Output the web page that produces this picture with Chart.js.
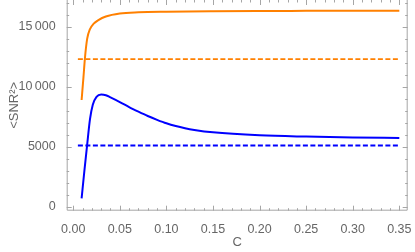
<!DOCTYPE html>
<html>
<head>
<meta charset="utf-8">
<script src="https://cdn.jsdelivr.net/npm/chart.js@4"></script>
<style>
  html, body { margin: 0; padding: 0; background: #fff; }
  #wrap { width: 415px; height: 252px; }
</style>
</head>
<body>
<div id="wrap"><canvas id="myChart" width="415" height="252"></canvas></div>
<script>
// values
var blueC   = [0.009, 0.012, 0.015, 0.018, 0.021, 0.025, 0.030, 0.035, 0.040, 0.050, 0.060, 0.070, 0.080, 0.090, 0.100, 0.110, 0.120, 0.130, 0.150, 0.200, 0.250, 0.300, 0.350];
var blueSNR = [700, 3000, 5200, 7300, 8500, 9150, 9340, 9290, 9110, 8720, 8300, 7920, 7560, 7240, 6950, 6720, 6540, 6400, 6200, 5950, 5840, 5770, 5725];

var orangeC   = [0.009, 0.011, 0.0126, 0.015, 0.018, 0.022, 0.027, 0.035, 0.050, 0.070, 0.100, 0.150, 0.200, 0.250, 0.300, 0.350];
var orangeSNR = [8890, 10800, 12400, 14000, 14800, 15250, 15550, 15850, 16100, 16200, 16250, 16290, 16310, 16320, 16330, 16330];

var dashC = [0.005, 0.35];
var orangeLevel = 12300;
var blueLevel = 5100;

var xTicks = [0, 0.05, 0.10, 0.15, 0.20, 0.25, 0.30, 0.35];
var yTicks = [0, 5000, 10000, 15000];

function pts(xs, ys) {
  var out = [];
  for (var i = 0; i < xs.length; i++) out.push({x: xs[i], y: ys[i]});
  return out;
}
function flat(xs, v) {
  return xs.map(function(x){ return {x: x, y: v}; });
}

var frameColor = '#a6a6a6';
var textColor = '#666666';

// Mathematica style frame with inward ticks
var framePlugin = {
  id: 'frame',
  afterDatasetsDraw: function(chart) {
    var ctx = chart.ctx, a = chart.chartArea;
    var xs = chart.scales.x, ys = chart.scales.y;
    ctx.save();
    ctx.strokeStyle = frameColor;
    ctx.lineWidth = 1;
    ctx.beginPath();
    ctx.rect(a.left + 0.5, a.top - 0.5, a.right - a.left - 1, a.bottom - a.top);
    ctx.stroke();
    ctx.beginPath();
    var v, p, len;
    for (var i = 0; i <= 35; i++) {
      v = i / 100;
      p = Math.round(xs.getPixelForValue(v)) + 0.5;
      len = (i % 5 == 0) ? 5 : 2.5;
      ctx.moveTo(p, a.bottom); ctx.lineTo(p, a.bottom - len);
      ctx.moveTo(p, a.top); ctx.lineTo(p, a.top + len);
    }
    for (var j = 0; j <= 17; j++) {
      v = j * 1000;
      p = Math.round(ys.getPixelForValue(v)) + 0.5;
      len = (j % 5 == 0) ? 5 : 2.5;
      ctx.moveTo(a.left, p); ctx.lineTo(a.left + len, p);
      ctx.moveTo(a.right, p); ctx.lineTo(a.right - len, p);
    }
    ctx.stroke();
    ctx.restore();
  }
};

function fmtY(v) {
  if (v >= 10000) {
    var s = String(v);
    return s.slice(0, s.length - 3) + '\u2009' + s.slice(-3);
  }
  return String(v);
}

var ctx = document.getElementById('myChart');
var myChart = new Chart(ctx, {
  type: 'scatter',
  data: {
    datasets: [
      { data: pts(orangeC, orangeSNR), borderColor: '#ff8000', borderWidth: 2, showLine: true, pointRadius: 0, cubicInterpolationMode: 'monotone' },
      { data: flat(dashC, orangeLevel), borderColor: '#ff8000', borderWidth: 1.8, borderDash: [5, 2.5], showLine: true, pointRadius: 0 },
      { data: pts(blueC, blueSNR), borderColor: '#0000ff', borderWidth: 2, showLine: true, pointRadius: 0, cubicInterpolationMode: 'monotone' },
      { data: flat(dashC, blueLevel), borderColor: '#0000ff', borderWidth: 1.8, borderDash: [5, 2.5], showLine: true, pointRadius: 0 }
    ]
  },
  options: {
    responsive: false,
    animation: false,
    layout: { padding: { left: 0, right: 7.3, top: 0, bottom: 0 } },
    plugins: { legend: { display: false }, tooltip: { enabled: false } },
    scales: {
      x: {
        type: 'linear',
        min: -0.007,
        max: 0.359,
        grid: { display: false },
        border: { display: false },
        afterBuildTicks: function(s) { s.ticks = xTicks.map(function(v){ return {value: v}; }); },
        afterFit: function(s) { s.height = 41.3; s.paddingLeft = 0; s.paddingRight = 0; },
        ticks: {
          color: textColor,
          padding: 3,
          maxRotation: 0,
          font: { family: 'Liberation Sans, Arial, sans-serif', size: 12.5 },
          callback: function(v) { return v.toFixed(2); }
        },
        title: {
          display: true,
          text: 'C',
          color: textColor,
          padding: { top: 0, bottom: 2 },
          font: { family: 'Liberation Sans, Arial, sans-serif', size: 13 }
        }
      },
      y: {
        type: 'linear',
        min: -333,
        max: 17225,
        grid: { display: false },
        border: { display: false },
        afterBuildTicks: function(s) { s.ticks = yTicks.map(function(v){ return {value: v}; }); },
        afterFit: function(s) { s.width = 66.7; s.paddingTop = 0; s.paddingBottom = 0; },
        ticks: {
          color: textColor,
          padding: 3,
          font: { family: 'Liberation Sans, Arial, sans-serif', size: 12.5 },
          callback: function(v) { return fmtY(v); }
        },
        title: {
          display: true,
          text: '<SNR\u00b2>',
          color: textColor,
          padding: { top: 7, bottom: 0 },
          font: { family: 'Liberation Sans, Arial, sans-serif', size: 13 }
        }
      }
    }
  },
  plugins: [framePlugin]
});
</script>
</body>
</html>
